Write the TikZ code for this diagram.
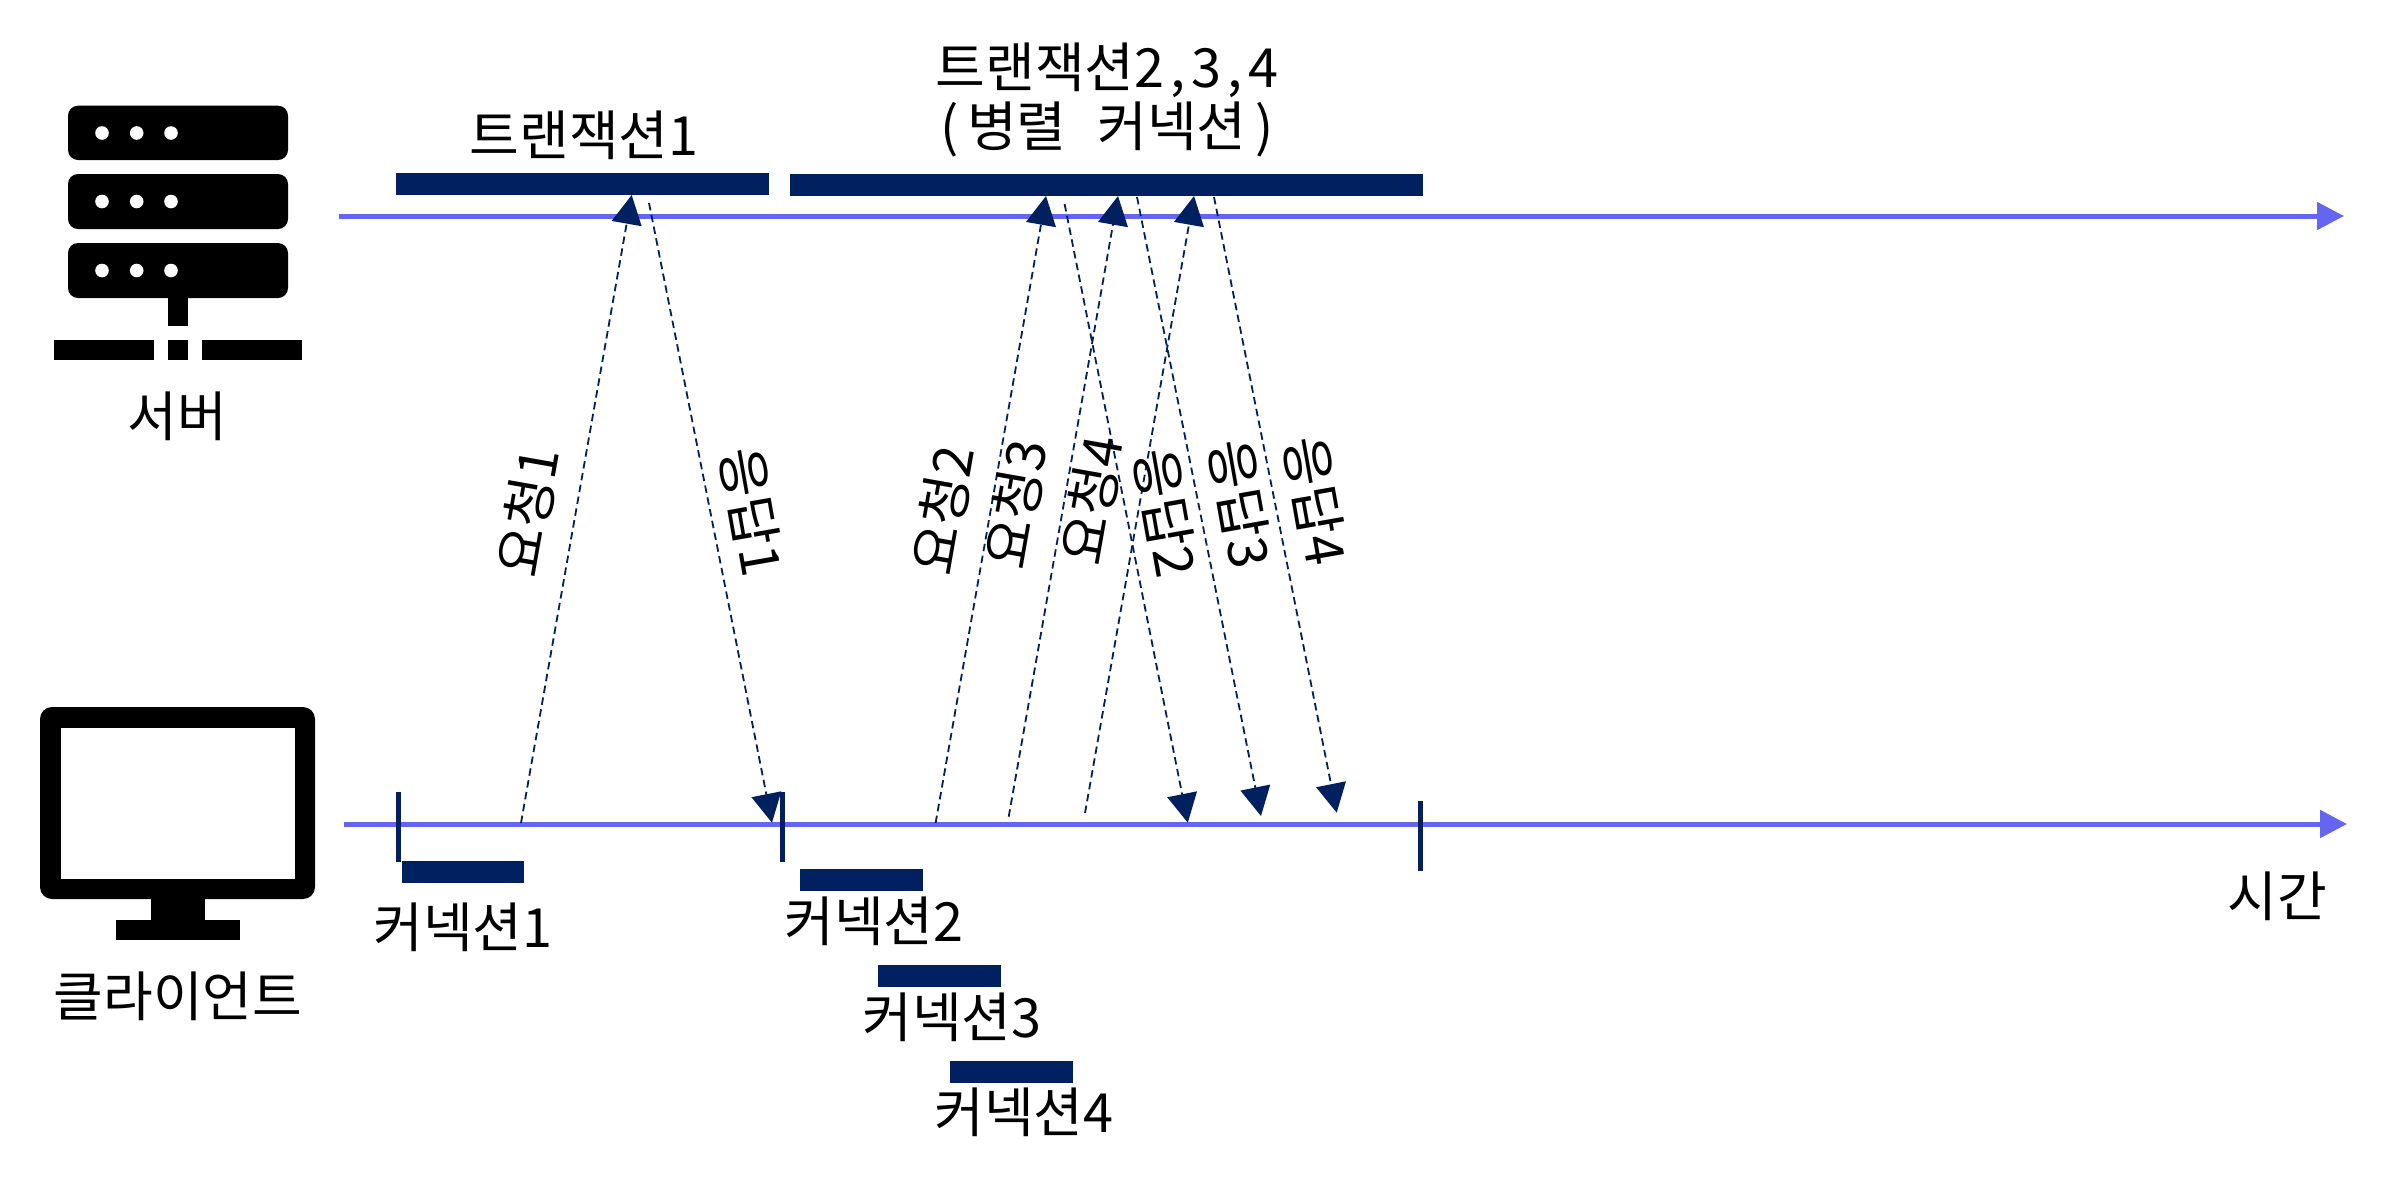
\documentclass[tikz,border=0pt]{standalone}
\usepackage{fontspec}
\setmainfont{Noto Sans CJK KR}
\usetikzlibrary{arrows.meta}
\definecolor{navy}{HTML}{002060}
\definecolor{axisblue}{HTML}{6466F0}
\newcommand{\mono}[1]{\makebox[0.5em][c]{#1}}
\tikzset{
  lbl/.style={font=\fontsize{27}{29.5}\selectfont,inner sep=0pt,text=black},
  bar/.style={fill=navy,inner sep=0pt,minimum height=11pt},
  tickmark/.style={draw=navy,line width=2.5pt},
  axisline/.style={draw=axisblue,line width=2.5pt,-{Triangle[length=13.5pt,width=13.5pt]}},
  msg/.style={draw=navy,line width=0.9pt,dash pattern=on 3.75pt off 2.25pt,-{Triangle[length=14.5pt,width=15pt,fill=navy]}},
  icon/.style={fill=black}
}
\begin{document}
\begin{tikzpicture}[x=0.5pt,y=-0.5pt]
\useasboundingbox (0,0) rectangle (2396,1200);
\fill[white] (0,0) rectangle (2396,1200);
% server icon
\foreach \t/\b/\d in {105.7/160/133,174/229/201.5,243/298/270.5}{
  \fill[icon,rounded corners=5pt] (68,\t) rectangle (288,\b);
  \foreach \x in {102,136.7,171}{\fill[white] (\x,\d) circle (3.4pt);}
}
\fill[icon] (167.5,298) rectangle (188,325.5);
\fill[icon] (54,339.5) rectangle (154,360);
\fill[icon] (167.5,339.5) rectangle (188,360);
\fill[icon] (202,339.5) rectangle (302,360);
% client icon
\fill[icon,rounded corners=6pt] (40,707) rectangle (315,899);
\fill[white] (61,727.5) rectangle (295,879);
\fill[icon] (151,899) rectangle (205,920);
\fill[icon] (116,920) rectangle (240,940);
% labels
\node[lbl] (server) at (177,416) {서버};
\node[lbl] (client) at (178,996) {클라이언트};
\node[lbl] (tr1) at (584,135) {트랜잭션1};
\node[lbl,align=center] (tr2) at (1107,100) {트랜잭션2\mono{,}3\mono{,}4\\\mono{(}\hspace{0.08em}병렬\hspace{0.35em} 커넥션\hspace{0.08em}\mono{)}};
\node[lbl] (time) at (2277,896) {시간};
% bars
\node[bar,minimum width=186.5pt] (b1) at (582.5,184) {};
\node[bar,minimum width=316.5pt] (b2) at (1106.5,185) {};
\node[bar,minimum width=61pt] (c1) at (462.8,872) {};
\node[bar,minimum width=61.5pt] (c2) at (861.3,880) {};
\node[bar,minimum width=61.5pt] (c3) at (939.4,975.5) {};
\node[bar,minimum width=61.5pt] (c4) at (1011.3,1071.5) {};
\node[lbl] (cl1) at (463,927) {커넥션1};
\node[lbl] (cl2) at (874,921) {커넥션2};
\node[lbl] (cl3) at (952,1017) {커넥션3};
\node[lbl] (cl4) at (1024,1112) {커넥션4};
% axes
\coordinate (as) at (339,216); \coordinate (ae) at (2344,216);
\coordinate (bs) at (344,824); \coordinate (be) at (2347,824);
\draw[axisline] (as) -- (ae);
\draw[axisline] (bs) -- (be);
% ticks
\coordinate (t1a) at (398,792); \coordinate (t1b) at (398,862);
\coordinate (t2a) at (782.5,792); \coordinate (t2b) at (782.5,862);
\coordinate (t3a) at (1420.5,801); \coordinate (t3b) at (1420.5,871);
\draw[tickmark] (t1a) -- (t1b);
\draw[tickmark] (t2a) -- (t2b);
\draw[tickmark] (t3a) -- (t3b);
% message end points
\coordinate (q1a) at (521,823);    \coordinate (q1b) at (631.7,195);
\coordinate (r1a) at (649,203);    \coordinate (r1b) at (772,822.7);
\coordinate (q2a) at (935.6,823);  \coordinate (q2b) at (1046,196);
\coordinate (q3a) at (1008.7,816.7); \coordinate (q3b) at (1118,196);
\coordinate (q4a) at (1085,813);   \coordinate (q4b) at (1194,196);
\coordinate (r2a) at (1064.6,204); \coordinate (r2b) at (1187.8,822.7);
\coordinate (r3a) at (1137,197);   \coordinate (r3b) at (1261,816);
\coordinate (r4a) at (1214,197);   \coordinate (r4b) at (1336.7,812.7);
\foreach \a/\b in {q1a/q1b,r1a/r1b,q2a/q2b,q3a/q3b,q4a/q4b,r2a/r2b,r3a/r3b,r4a/r4b}{
  \draw[msg] (\a) -- (\b);
}
% rotated labels
\node[lbl,rotate=80] (ql1) at (528,512) {요청1};
\node[lbl,rotate=80] (ql2) at (943,510) {요청2};
\node[lbl,rotate=80] (ql3) at (1016,504) {요청3};
\node[lbl,rotate=80] (ql4) at (1092,500) {요청4};
\node[lbl,rotate=-80] (rl1) at (752,512) {응답1};
\node[lbl,rotate=-80] (rl2) at (1166,513) {응답2};
\node[lbl,rotate=-80] (rl3) at (1240.5,504) {응답3};
\node[lbl,rotate=-80] (rl4) at (1316,501) {응답4};
\end{tikzpicture}
\end{document}
